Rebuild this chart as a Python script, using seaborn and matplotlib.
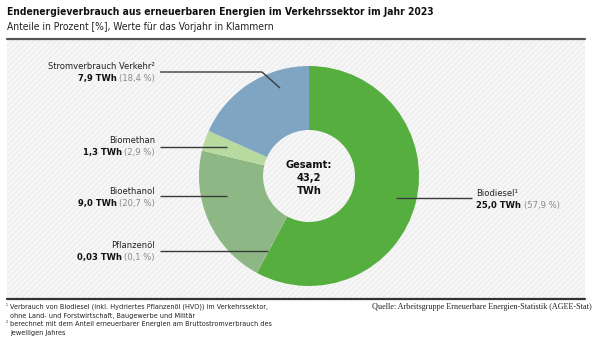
import matplotlib
matplotlib.use("Agg")
import matplotlib.pyplot as plt
from matplotlib.patches import Rectangle
from matplotlib import font_manager as fm
import seaborn as sns

# Data: final energy from renewables in transport, 2023 (TWh) and prior-year share (%)
categories = ["Biodiesel¹", "Pflanzenöl", "Bioethanol", "Biomethan", "Stromverbrauch Verkehr²"]
twh_2023 = [25.0, 0.03, 9.0, 1.3, 7.9]
twh_labels = ["25,0 TWh", "0,03 TWh", "9,0 TWh", "1,3 TWh", "7,9 TWh"]
share_prev = ["(57,9 %)", "(0,1 %)", "(20,7 %)", "(2,9 %)", "(18,4 %)"]
colors = ["#56ae3e", "#6f9f5e", "#8db784", "#b9da9f", "#7fa5c3"]
total_label = "Gesamt:\n43,2\nTWh"

sns.set_style("white")

# Prefer a condensed sans face if one is installed
cond = fm.FontProperties(family="DejaVu Sans", stretch="condensed")
use_stretch = "Condensed" in fm.findfont(cond, fallback_to_default=True)
plt.rcParams["font.family"] = ["DejaVu Sans"] if use_stretch else ["Roboto", "DejaVu Sans"]
if use_stretch:
    plt.rcParams["font.stretch"] = "condensed"

W, H = 605, 347
fig = plt.figure(figsize=(W / 100, H / 100), dpi=100)
renderer = fig.canvas.get_renderer()


def fit(t, width):
    """Scale a text's font size so it spans the given pixel width."""
    w = t.get_window_extent(renderer).width
    t.set_fontsize(t.get_fontsize() * width / w)
    return t


# Background layer in pixel coordinates
bg = fig.add_axes([0, 0, 1, 1], zorder=0)
bg.set_xlim(0, W)
bg.set_ylim(H, 0)
bg.axis("off")
plt.rcParams["hatch.linewidth"] = 0.9
bg.add_patch(Rectangle((7, 40), 578, 258, facecolor="#f0f0f0", edgecolor="#fbfbfb",
                       linewidth=0, hatch="//////"))
bg.plot([7, 585], [39, 39], color="#555555", lw=1.6)
bg.plot([7, 585], [299, 299], color="#333333", lw=1.6)

# Donut
cx, cy, R = 309, 176, 110
pax = fig.add_axes([(cx - R) / W, (H - cy - R) / H, 2 * R / W, 2 * R / H], zorder=1)
pax.patch.set_alpha(0)
pax.pie(twh_2023, colors=colors, startangle=90, counterclock=False,
        wedgeprops=dict(width=64 / R, edgecolor="none", linewidth=0))
pax.set_aspect("equal")
pax.set_xlim(-1, 1)
pax.set_ylim(-1, 1)

# Overlay for labels and leader lines
ov = fig.add_axes([0, 0, 1, 1], zorder=2)
ov.set_xlim(0, W)
ov.set_ylim(H, 0)
ov.axis("off")
ov.patch.set_alpha(0)

fit(ov.text(7, 12, "Endenergieverbrauch aus erneuerbaren Energien im Verkehrssektor im Jahr 2023",
            fontsize=9.5, fontweight="bold", color="#111111", va="center", ha="left"), 430)
fit(ov.text(7, 27, "Anteile in Prozent [%], Werte für das Vorjahr in Klammern",
            fontsize=7.8, color="#222222", va="center", ha="left"), 268)

ct = ov.text(cx, 178, total_label, fontsize=10, fontweight="bold", ha="center", va="center",
             linespacing=1.35, color="#111111")
# size the centre label from its first line
probe = ov.text(0, 0, "Gesamt:", fontsize=10, fontweight="bold")
s = 10 * 46 / probe.get_window_extent(renderer).width
probe.remove()
ct.set_fontsize(s)

probe = ov.text(0, 0, categories[4], fontsize=7.5)
lab_fs = 7.5 * 107 / probe.get_window_extent(renderer).width
probe.remove()

line_col = "#3a3a3a"
layout = {
    0: dict(x=476, ha="left", y=193, path=([472, 396], [198, 198])),
    1: dict(x=155, ha="right", y=245, path=([160, 268], [251, 251])),
    2: dict(x=155, ha="right", y=191, path=([160, 227], [196, 196])),
    3: dict(x=155, ha="right", y=140, path=([160, 227], [147, 147])),
    4: dict(x=155, ha="right", y=66, path=([160, 262, 280], [72, 72, 88])),
}
for i, name in enumerate(categories):
    L = layout[i]
    ov.plot(*L["path"], color=line_col, lw=1.0, solid_capstyle="butt")
    ov.text(L["x"], L["y"], name, fontsize=lab_fs, color="#222222", ha=L["ha"], va="center")
    y2 = L["y"] + 12.5
    if L["ha"] == "right":
        t = ov.text(L["x"], y2, share_prev[i], fontsize=lab_fs, color="#8a8a8a",
                    ha="right", va="center")
        bb = t.get_window_extent(renderer).transformed(ov.transData.inverted())
        ov.text(min(bb.x0, bb.x1) - 2.5, y2, twh_labels[i], fontsize=lab_fs, fontweight="bold",
                color="#111111", ha="right", va="center")
    else:
        t = ov.text(L["x"], y2, twh_labels[i], fontsize=lab_fs, fontweight="bold",
                    color="#111111", ha="left", va="center")
        bb = t.get_window_extent(renderer).transformed(ov.transData.inverted())
        ov.text(max(bb.x0, bb.x1) + 2.5, y2, share_prev[i], fontsize=lab_fs, color="#8a8a8a",
                ha="left", va="center")

foot = [
    ("¹", "Verbrauch von Biodiesel (inkl. Hydriertes Pflanzenöl (HVO)) im Verkehrssektor,"),
    ("", "ohne Land- und Forstwirtschaft, Baugewerbe und Militär"),
    ("²", "berechnet mit dem Anteil erneuerbarer Energien am Bruttostromverbrauch des"),
    ("", "jeweiligen Jahres"),
]
probe = ov.text(0, 0, foot[0][1], fontsize=6)
foot_fs = 6 * 256 / probe.get_window_extent(renderer).width
probe.remove()
for k, (mark, txt) in enumerate(foot):
    y = 307 + k * 8.7
    if mark:
        ov.text(6, y - 1, mark, fontsize=foot_fs * 0.8, color="#222222", ha="left", va="center")
    ov.text(10, y, txt, fontsize=foot_fs, color="#222222", ha="left", va="center")

src = ov.text(592, 307, "Quelle: Arbeitsgruppe Erneuerbare Energien-Statistik (AGEE-Stat)",
              fontsize=6.0, color="#222222", ha="right", va="center",
              family=["Liberation Serif", "DejaVu Serif"])
fit(src, 221)

fig.savefig("out.png", dpi=100)
